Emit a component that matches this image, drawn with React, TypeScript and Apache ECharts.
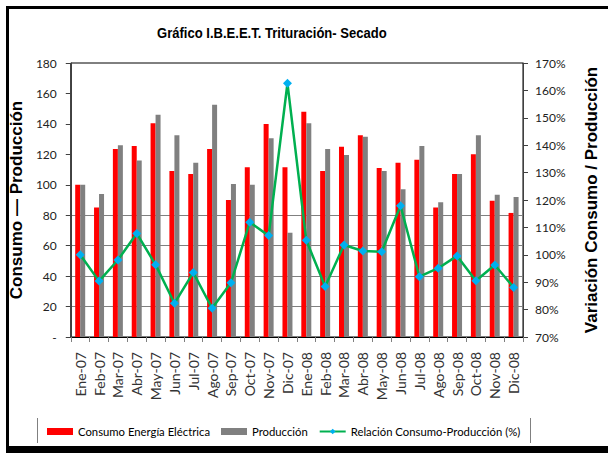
import React, { useEffect, useRef } from "react";
import * as echarts from "echarts";

const categories = [
  "Ene-07", "Feb-07", "Mar-07", "Abr-07", "May-07", "Jun-07", "Jul-07", "Ago-07", "Sep-07", "Oct-07", "Nov-07", "Dic-07",
  "Ene-08", "Feb-08", "Mar-08", "Abr-08", "May-08", "Jun-08", "Jul-08", "Ago-08", "Sep-08", "Oct-08", "Nov-08", "Dic-08",
];
const consumo = [100, 85, 123.5, 125.5, 140.5, 109, 107, 123.5, 90, 111.5, 140, 111.5, 148, 109, 125, 132.5, 111, 114.5, 116.5, 85, 107, 120, 89.5, 81.5];
const produccion = [100, 94, 126, 116, 146, 132.5, 114.5, 152.5, 100.5, 100, 130.5, 68.5, 140.5, 123.5, 119.5, 131.5, 109, 97, 125.5, 88.5, 107, 132.5, 93.5, 92];
const relacion = [100, 90.4, 98.1, 107.8, 96.4, 82.3, 93.5, 80.5, 89.8, 111.9, 107, 162.6, 105.3, 88.4, 103.6, 101.4, 101.1, 117.9, 92, 95.1, 99.6, 90.5, 96.3, 88.1];

const titleText = "Gráfico I.B.E.E.T. Trituración- Secado";
const leftAxisName = "Consumo — Producción";
const rightAxisName = "Variación Consumo / Producción";
const seriesNames = ["Consumo Energía Eléctrica", "Producción", "Relación Consumo-Producción (%)"];

const labelFont = "Lato, 'Open Sans', sans-serif";
const boldFont = "'Liberation Sans', Arial, sans-serif";

export default function App() {
  const ref = useRef<HTMLDivElement>(null);
  useEffect(() => {
    document.body.style.margin = "0";
    const chart = echarts.init(ref.current!, null, { renderer: "svg" });
    const gridColors = ["rgba(0,0,0,0)", "#808080", "#808080", "#808080", "#808080", "rgba(0,0,0,0)", "rgba(0,0,0,0)", "rgba(0,0,0,0)", "rgba(0,0,0,0)", "rgba(0,0,0,0)"];
    chart.setOption({
      animation: false,
      backgroundColor: "#ffffff",
      grid: { left: 63, top: 63, right: 75, bottom: 116, show: true, borderColor: "#000", borderWidth: 1, backgroundColor: "transparent" },
      graphic: [
        { type: "rect", shape: { x: 6, y: 6, width: 3, height: 446 }, style: { fill: "#000" } },
        { type: "rect", shape: { x: 6, y: 6, width: 602, height: 3 }, style: { fill: "#000" } },
        { type: "rect", shape: { x: 6, y: 446, width: 602, height: 7 }, style: { fill: "#000" } },
        { type: "line", shape: { x1: 37.5, y1: 418, x2: 37.5, y2: 443 }, style: { stroke: "#808080", lineWidth: 1 } },
        { type: "line", shape: { x1: 530.5, y1: 418, x2: 530.5, y2: 443 }, style: { stroke: "#808080", lineWidth: 1 } },
        {
          type: "text", x: 157, y: 33, scaleX: 0.87,
          style: { text: titleText, font: `bold 15px ${boldFont}`, fill: "#000", textAlign: "left", textVerticalAlign: "middle" },
        },
      ],
      legend: {
        left: 42, top: 421, itemGap: 11, itemWidth: 26, itemHeight: 7,
        textStyle: { fontFamily: labelFont, fontSize: 11.3, color: "#000" },
        data: [
          { name: seriesNames[0], icon: "rect" },
          { name: seriesNames[1], icon: "rect" },
          { name: seriesNames[2] },
        ],
      },
      xAxis: {
        type: "category",
        data: categories,
        boundaryGap: true,
        axisLine: { show: true, lineStyle: { color: "#000", width: 1 } },
        axisTick: { show: true, length: 5, lineStyle: { color: "#808080" } },
        axisLabel: { interval: 0, rotate: 90, margin: 15, fontFamily: labelFont, fontSize: 14, color: "#333" },
        splitLine: { show: false },
      },
      yAxis: [
        {
          type: "value", min: 0, max: 180, interval: 20,
          name: leftAxisName, nameLocation: "middle", nameGap: 33, nameRotate: 90,
          nameTextStyle: { fontFamily: boldFont, fontWeight: "bold", fontSize: 17, color: "#000" },
          axisLine: { show: true, lineStyle: { color: "#404040" } },
          axisTick: { show: true, length: 5, lineStyle: { color: "#404040" } },
          axisLabel: { margin: 14, fontFamily: labelFont, fontSize: 12, color: "#222", formatter: (v: number) => (v === 0 ? "-" : String(v)) },
          splitLine: { show: true, lineStyle: { color: gridColors, width: 1 } },
        },
        {
          type: "value", min: 70, max: 170, interval: 10,
          name: rightAxisName, nameLocation: "middle", nameGap: 60, nameRotate: 90,
          nameTextStyle: { fontFamily: boldFont, fontWeight: "bold", fontSize: 17, color: "#000" },
          axisLine: { show: true, lineStyle: { color: "#404040" } },
          axisTick: { show: true, length: 5, lineStyle: { color: "#404040" } },
          axisLabel: { margin: 12, fontFamily: labelFont, fontSize: 12, color: "#222", formatter: "{value}%" },
          splitLine: { show: false },
        },
      ],
      series: [
        { name: seriesNames[0], type: "bar", data: consumo, barWidth: 5, barGap: "0%", itemStyle: { color: "#FF0000" } },
        { name: seriesNames[1], type: "bar", data: produccion, barWidth: 5, barGap: "0%", itemStyle: { color: "#808080" } },
        {
          name: seriesNames[2], type: "line", yAxisIndex: 1, data: relacion,
          symbol: "diamond", symbolSize: 9,
          itemStyle: { color: "#00B0F0" },
          lineStyle: { color: "#00B050", width: 2.5 },
        },
      ],
    });
    return () => chart.dispose();
  }, []);
  return <div ref={ref} style={{ width: 608, height: 453, position: "absolute", left: 0, top: 0 }} />;
}
